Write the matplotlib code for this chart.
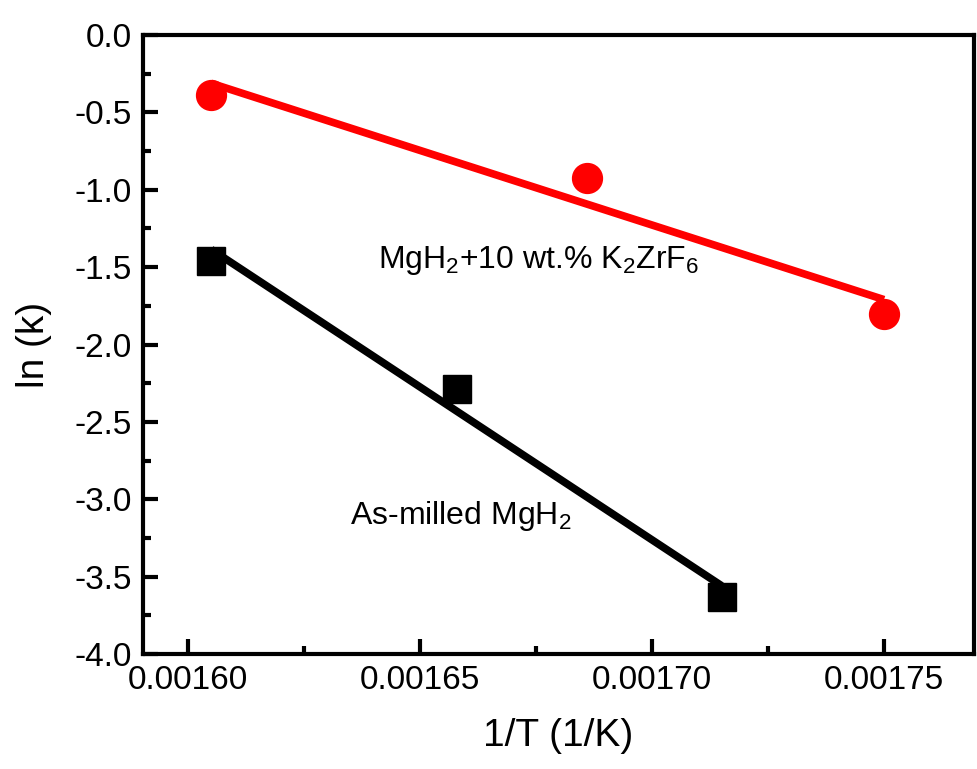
import numpy as np
import matplotlib.pyplot as plt
from matplotlib.ticker import MultipleLocator, FormatStrFormatter

plt.rcParams['font.family'] = ['Liberation Sans', 'DejaVu Sans']
plt.rcParams['mathtext.fontset'] = 'custom'
plt.rcParams['mathtext.rm'] = 'Liberation Sans'

# data
inv_T_doped = [0.001605, 0.001686, 0.00175]
lnk_doped = [-0.388, -0.921, -1.806]
inv_T_milled = [0.001605, 0.001658, 0.001715]
lnk_milled = [-1.461, -2.287, -3.629]

label_doped = "MgH$_2$+10 wt.% K$_2$ZrF$_6$"
label_milled = "As-milled MgH$_2$"


def fit_line(x, y):
    p = np.polyfit(x, y, 1)
    xs = np.array([min(x), max(x)])
    return xs, np.polyval(p, xs)


fig = plt.figure(figsize=(9.77, 7.69), dpi=100)
ax = fig.add_axes([0.1464, 0.1495, 0.8506, 0.805])

xs, ys = fit_line(inv_T_doped, lnk_doped)
ax.plot(xs, ys, color='red', lw=5.5, solid_capstyle='butt', zorder=2)
ax.plot(inv_T_doped, lnk_doped, 'o', color='red', ms=21.5, zorder=3)

xs, ys = fit_line(inv_T_milled, lnk_milled)
ax.plot(xs, ys, color='black', lw=5.5, solid_capstyle='butt', zorder=2)
ax.plot(inv_T_milled, lnk_milled, 's', color='black', ms=19.5, zorder=3)

ax.text(0.001641, -1.46, label_doped, fontsize=23, va='center', ha='left')
ax.text(0.001635, -3.11, label_milled, fontsize=23, va='center', ha='left')

ax.set_xlim(0.0015903, 0.0017694)
ax.set_ylim(-4.0, 0.0)
ax.xaxis.set_major_locator(MultipleLocator(0.00005))
ax.xaxis.set_minor_locator(MultipleLocator(0.000025))
ax.xaxis.set_major_formatter(FormatStrFormatter('%.5f'))
ax.yaxis.set_major_locator(MultipleLocator(0.5))
ax.yaxis.set_minor_locator(MultipleLocator(0.25))
ax.yaxis.set_major_formatter(FormatStrFormatter('%.1f'))

ax.tick_params(which='both', direction='in', width=3, labelsize=24,
               top=False, right=False)
ax.tick_params(which='major', length=11, pad=8)
ax.tick_params(which='minor', length=6)
for s in ax.spines.values():
    s.set_linewidth(3)

ax.set_xlabel("1/T (1/K)", fontsize=28, labelpad=16)
ax.set_ylabel("ln (k)", fontsize=28, labelpad=16)

fig.savefig("out.png", dpi=100)
